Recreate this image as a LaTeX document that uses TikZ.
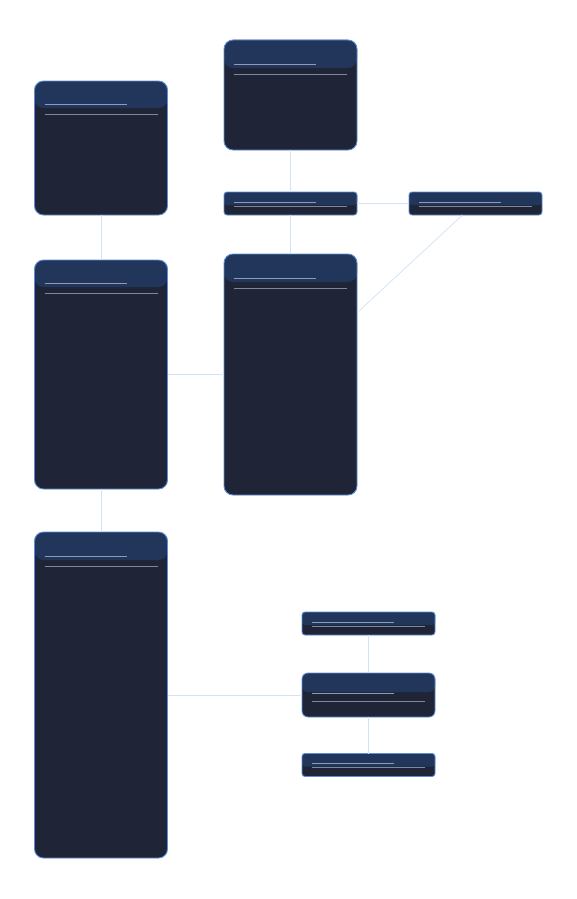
\documentclass[tikz,border=0pt]{standalone}
\usetikzlibrary{calc}
\definecolor{bodyc}{HTML}{1F2537}
\definecolor{hdrc}{HTML}{22365C}
\definecolor{bordc}{HTML}{5B8ED8}
\definecolor{lineA}{HTML}{8D9BB4}
\definecolor{lineB}{HTML}{7D889C}
\definecolor{connc}{HTML}{D3E2F5}
\tikzset{
  card/.style n args={5}{draw=bordc, line width=0.9pt, fill=bodyc, rounded corners=#5,
    minimum width=133pt, minimum height=#4, inner sep=0pt, outer sep=0pt,
    path picture={
      \fill[hdrc, rounded corners=#5] ([yshift=-#1]path picture bounding box.north west) rectangle ([yshift=10pt]path picture bounding box.north east);
      \draw[lineA, line width=0.8pt] ([xshift=10pt,yshift=-#2]path picture bounding box.north west) -- ++(82pt,0);
      \draw[lineB, line width=0.8pt] ([xshift=10pt,yshift=-#3]path picture bounding box.north west) -- ++(113pt,0);
    }},
  conn/.style={draw=connc, line width=0.7pt}
}
\begin{document}
\begin{tikzpicture}[x=1pt,y=-1pt]
\useasboundingbox (0,0) rectangle (577,899);
\fill[white] (0,0) rectangle (577,899);
\node[card={27pt}{23.5pt}{33.5pt}{134pt}{9pt}] (A) at (101,148) {};
\node[card={28pt}{24pt}{34pt}{110pt}{9pt}] (B) at (290.5,95) {};
\node[card={13pt}{10pt}{14pt}{23pt}{3pt}] (C) at (290.5,203.5) {};
\node[card={13pt}{10pt}{14pt}{23pt}{3pt}] (D) at (475.5,203.5) {};
\node[card={28pt}{24pt}{34pt}{241pt}{9pt}] (E) at (290.5,374.5) {};
\node[card={27pt}{23.5pt}{33.5pt}{229pt}{9pt}] (F) at (101,374.5) {};
\node[card={28pt}{24pt}{34pt}{326pt}{9pt}] (G) at (101,695) {};
\node[card={13pt}{10pt}{14pt}{23pt}{3pt}] (H) at (368.5,623.5) {};
\node[card={19pt}{20pt}{28pt}{44pt}{6pt}] (I) at (368.5,695) {};
\node[card={13pt}{10pt}{14pt}{23pt}{3pt}] (J) at (368.5,765) {};
\draw[conn] (A.south) -- (F.north);
\draw[conn] (B.south) -- (C.north);
\draw[conn] (C.east) -- (D.west);
\draw[conn] (C.south) -- (E.north);
\coordinate (Dd) at ([xshift=-13pt]D.south);
\coordinate (Ee) at ([yshift=-57pt]E.north east);
\draw[conn] (Dd) -- ([xshift=2pt]Ee);
\draw[conn] (F.east) -- (E.west);
\draw[conn] (F.south) -- (G.north);
\draw[conn] (G.east) -- (I.west);
\draw[conn] (H.south) -- (I.north);
\draw[conn] (I.south) -- (J.north);
\end{tikzpicture}
\end{document}
